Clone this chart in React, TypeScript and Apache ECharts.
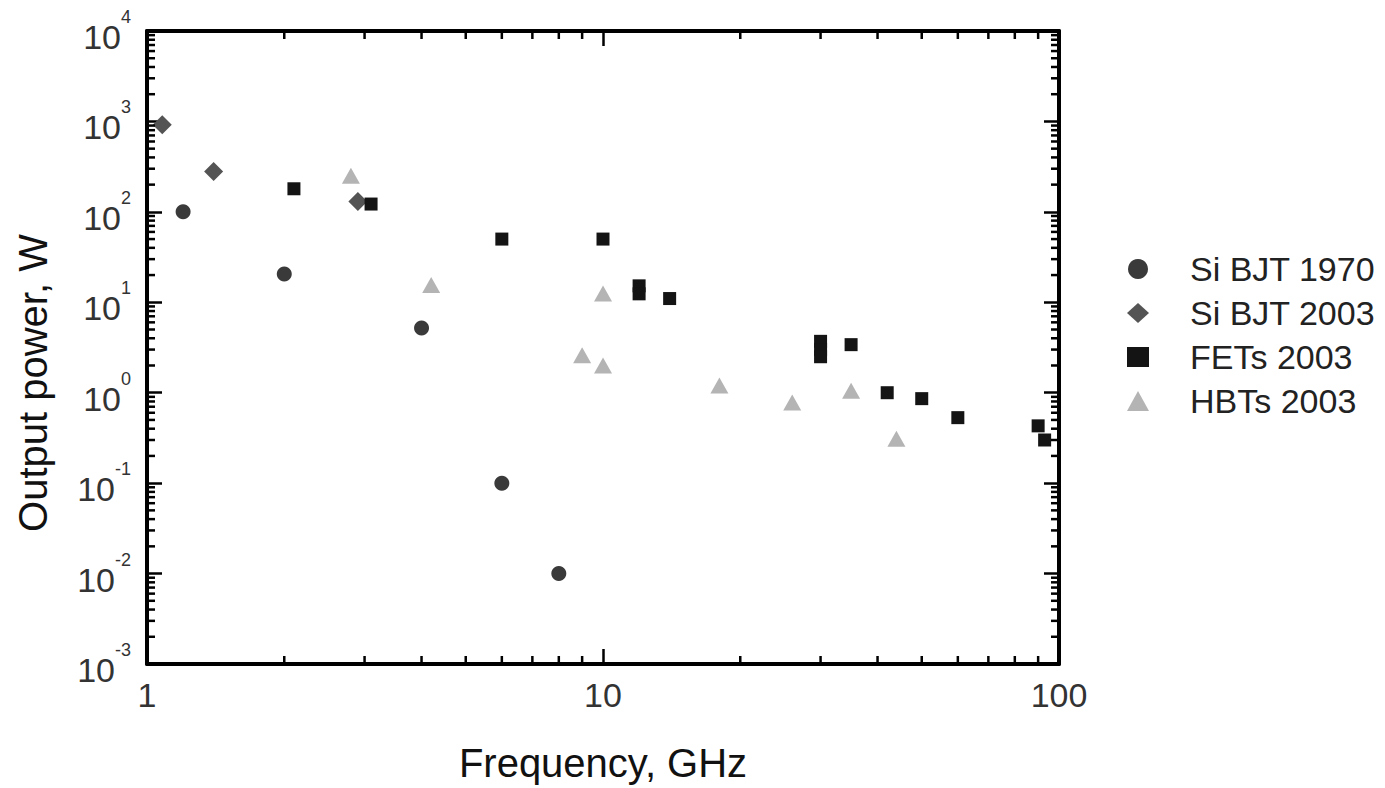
import React, { useEffect, useRef } from "react";
import * as echarts from "echarts";

const FONT = "'Liberation Sans', Arial, Helvetica, sans-serif";

// [frequency GHz, output power W]
const siBjt1970: number[][] = [
  [1.2, 100],
  [2, 20.5],
  [4, 5.2],
  [6, 0.1],
  [8, 0.01],
];
const siBjt2003: number[][] = [
  [1.08, 920],
  [1.4, 280],
  [2.9, 130],
];
const fets2003: number[][] = [
  [2.1, 180],
  [3.1, 122],
  [6, 50],
  [10, 50],
  [12, 15.2],
  [12, 12.4],
  [14, 11],
  [30, 3.7],
  [30, 3.0],
  [30, 2.5],
  [35, 3.4],
  [42, 1.0],
  [50, 0.86],
  [60, 0.53],
  [90, 0.43],
  [93, 0.3],
];
const hbts2003: number[][] = [
  [2.8, 250],
  [4.2, 15.5],
  [9, 2.6],
  [10, 12.5],
  [10, 2.0],
  [18, 1.2],
  [26, 0.78],
  [35, 1.05],
  [44, 0.31],
];

const seriesNames = ["Si BJT 1970", "Si BJT 2003", "FETs 2003", "HBTs 2003"];
const xMinorTicks = [2, 3, 4, 5, 6, 7, 8, 9, 20, 30, 40, 50, 60, 70, 80, 90];
const yDecades = [0.001, 0.01, 0.1, 1, 10, 100, 1000];
const yMinorMultipliers = [2, 3, 4, 5, 6, 7, 8, 9];

const X_MIN = 1;
const X_MAX = 100;
const Y_MIN = 0.001;
const Y_MAX = 10000;

export default function App() {
  const ref = useRef<HTMLDivElement>(null);

  useEffect(() => {
    if (!ref.current) return;
    const chart = echarts.init(ref.current, undefined, { renderer: "svg" });

    const yMinor: number[][] = [];
    yDecades.forEach((d) =>
      yMinorMultipliers.forEach((m) => yMinor.push([1, parseFloat((d * m).toPrecision(6))]))
    );
    const xMinor = xMinorTicks.map((v) => [v, 1]);

    const MINOR_LEN = 8;
    const tickStyle = { stroke: "#000", lineWidth: 2.5 };

    const logAxisCommon = {
      type: "log" as const,
      logBase: 10,
      splitLine: { show: false },
      axisLine: { show: true, onZero: false, lineStyle: { color: "#000", width: 4 } },
      axisTick: { show: true, inside: true, length: 15, lineStyle: { color: "#000", width: 2.5 } },
    };

    chart.setOption({
      animation: false,
      backgroundColor: "#fff",
      textStyle: { fontFamily: FONT },
      grid: { left: 147, right: 326, top: 31, bottom: 120, containLabel: false },
      legend: {
        data: seriesNames,
        orient: "vertical",
        left: 1127,
        top: 252,
        padding: 0,
        itemGap: 10,
        itemWidth: 22,
        itemHeight: 20,
        textStyle: {
          fontSize: 34,
          lineHeight: 34,
          color: "#222",
          fontFamily: FONT,
          padding: [0, 0, 0, 36],
        },
      },
      xAxis: [
        {
          ...logAxisCommon,
          position: "bottom",
          min: X_MIN,
          max: X_MAX,
          splitNumber: 2,
          name: "Frequency, GHz",
          nameLocation: "middle",
          nameGap: 79,
          nameTextStyle: { fontSize: 40, color: "#111", fontFamily: FONT },
          axisLabel: { show: true, fontSize: 34, color: "#333", margin: 14, fontFamily: FONT },
        },
        {
          ...logAxisCommon,
          position: "top",
          min: X_MIN,
          max: X_MAX,
          splitNumber: 2,
          axisLabel: { show: false },
        },
      ],
      yAxis: [
        {
          ...logAxisCommon,
          position: "left",
          min: Y_MIN,
          max: Y_MAX,
          splitNumber: 7,
          axisLabel: {
            show: true,
            margin: 16,
            formatter: (v: number) => {
              const e = Math.round(Math.log10(v));
              return `{b|10}{s|${e}}`;
            },
            rich: {
              b: { fontSize: 34, lineHeight: 46, verticalAlign: "bottom", color: "#333", fontFamily: FONT },
              s: { fontSize: 18, lineHeight: 18, verticalAlign: "top", color: "#333", fontFamily: FONT },
            },
          },
        },
        {
          ...logAxisCommon,
          position: "right",
          min: Y_MIN,
          max: Y_MAX,
          splitNumber: 7,
          axisLabel: { show: false },
        },
      ],
      graphic: [
        {
          type: "text",
          x: 33,
          y: 383,
          rotation: Math.PI / 2,
          style: {
            text: "Output power, W",
            fontSize: 40,
            fontFamily: FONT,
            fill: "#111",
            align: "center",
            verticalAlign: "middle",
          },
        },
      ],
      series: [
        {
          name: "Si BJT 1970",
          type: "scatter",
          symbol: "circle",
          symbolSize: 15,
          itemStyle: { color: "#3a3a3a", opacity: 1 },
          data: siBjt1970,
          z: 3,
        },
        {
          name: "Si BJT 2003",
          type: "scatter",
          symbol: "diamond",
          symbolSize: 19,
          itemStyle: { color: "#545454", opacity: 1 },
          data: siBjt2003,
          z: 3,
        },
        {
          name: "FETs 2003",
          type: "scatter",
          symbol: "rect",
          symbolSize: 13,
          itemStyle: { color: "#141414", opacity: 1 },
          data: fets2003,
          z: 3,
        },
        {
          name: "HBTs 2003",
          type: "scatter",
          symbol: "triangle",
          symbolSize: [18, 16],
          itemStyle: { color: "#b4b4b4", opacity: 1 },
          data: hbts2003,
          z: 3,
        },
        {
          name: "xMinorTicks",
          type: "custom",
          silent: true,
          clip: false,
          z: 4,
          data: xMinor,
          renderItem: (params: any, api: any) => {
            const cs = params.coordSys;
            const p = api.coord([api.value(0), api.value(1)]);
            const top = cs.y;
            const bottom = cs.y + cs.height;
            return {
              type: "group",
              children: [
                { type: "line", shape: { x1: p[0], y1: bottom, x2: p[0], y2: bottom - MINOR_LEN }, style: tickStyle },
                { type: "line", shape: { x1: p[0], y1: top, x2: p[0], y2: top + MINOR_LEN }, style: tickStyle },
              ],
            };
          },
        },
        {
          name: "yMinorTicks",
          type: "custom",
          silent: true,
          clip: false,
          z: 4,
          data: yMinor,
          renderItem: (params: any, api: any) => {
            const cs = params.coordSys;
            const p = api.coord([api.value(0), api.value(1)]);
            const left = cs.x;
            const right = cs.x + cs.width;
            return {
              type: "group",
              children: [
                { type: "line", shape: { x1: left, y1: p[1], x2: left + MINOR_LEN, y2: p[1] }, style: tickStyle },
                { type: "line", shape: { x1: right, y1: p[1], x2: right - MINOR_LEN, y2: p[1] }, style: tickStyle },
              ],
            };
          },
        },
      ],
    });

    return () => chart.dispose();
  }, []);

  return (
    <div
      ref={ref}
      style={{ position: "absolute", left: 0, top: 0, width: 1385, height: 788 }}
    />
  );
}
